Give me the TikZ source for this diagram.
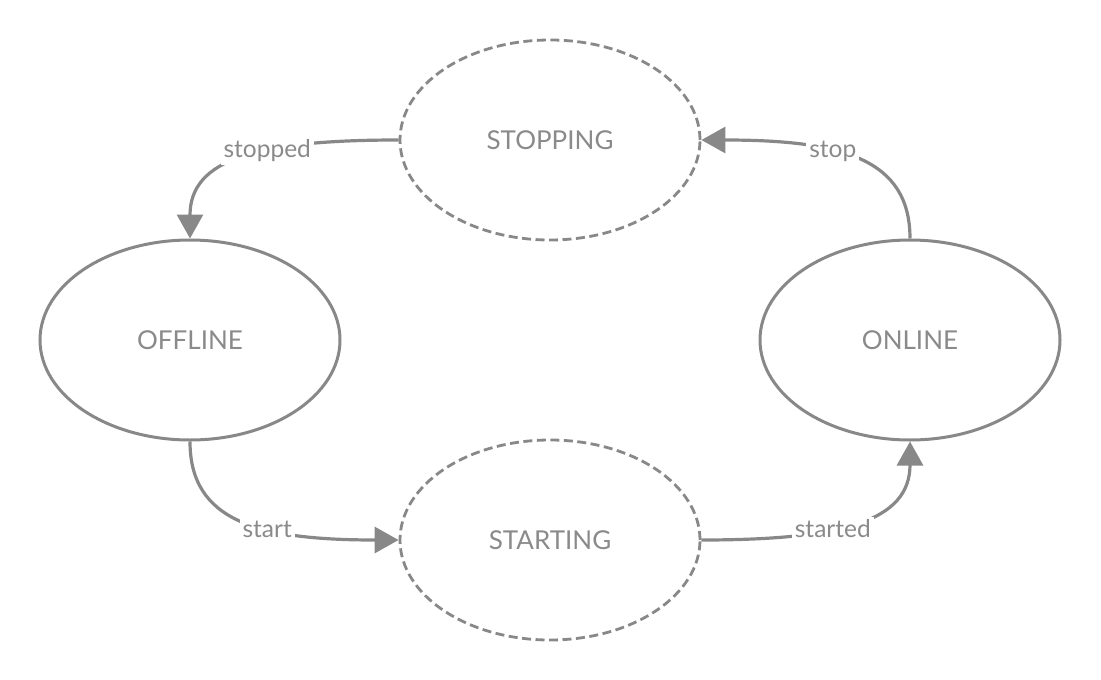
\documentclass[tikz,border=0pt]{standalone}
\usepackage{fontspec}
\setmainfont{Lato}
\usetikzlibrary{shapes.geometric,arrows.meta}
\definecolor{linegray}{HTML}{888888}
\definecolor{textgray}{HTML}{8A8A8A}
\tikzset{
  state/.style={ellipse, draw=linegray, line width=3pt, minimum width=300pt, minimum height=200pt, inner sep=0pt, text=textgray, font=\fontsize{26}{30}\selectfont},
  transient/.style={state, line width=2.8pt, dash pattern=on 9pt off 4.5pt},
  conn/.style={draw=linegray, line width=3.2pt, -{Triangle[length=24pt,width=26pt]}},
  lbl/.style={fill=white, text=textgray, inner sep=3pt, font=\fontsize{24.5}{28}\selectfont}
}
\begin{document}
\begin{tikzpicture}[x=1pt,y=-1pt]
\useasboundingbox (0,0) rectangle (1101,680);
\node[transient] (stopping) at (550,140) {STOPPING};
\node[state] (offline) at (190,340) {OFFLINE};
\node[state] (online) at (910,340) {ONLINE};
\node[transient] (starting) at (550,540) {STARTING};
\draw[conn] (stopping.west) .. controls +(-140,0) and +(0,-80) .. (offline.north) node[lbl, pos=0.39] (l1) {stopped};
\draw[conn] (online.north) .. controls +(0,-80) and +(140,0) .. (stopping.east) node[lbl, pos=0.61] (l2) {stop};
\draw[conn] (offline.south) .. controls +(0,80) and +(-140,0) .. (starting.west) node[lbl, pos=0.61] (l3) {start};
\draw[conn] (starting.east) .. controls +(140,0) and +(0,80) .. (online.south) node[lbl, pos=0.39] (l4) {started};
\end{tikzpicture}
\end{document}
